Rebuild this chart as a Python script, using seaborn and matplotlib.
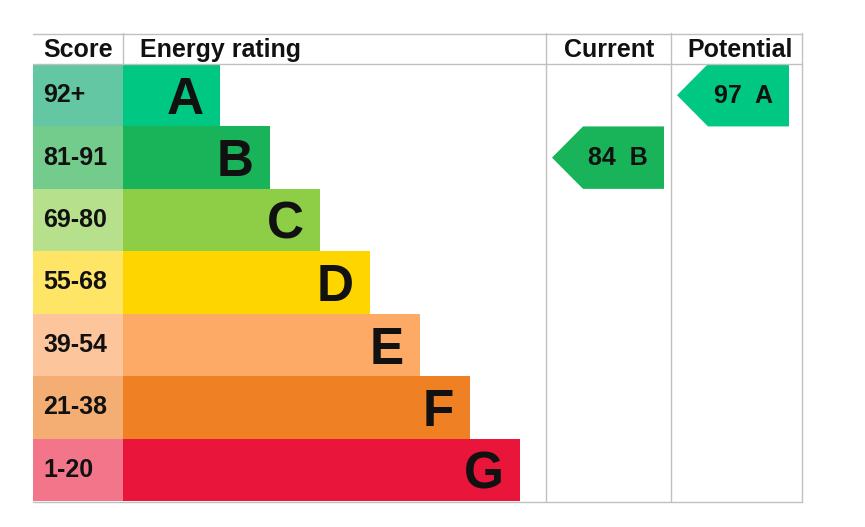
import matplotlib
matplotlib.use("Agg")
import matplotlib.pyplot as plt
import seaborn as sns
import pandas as pd
from matplotlib.patches import Polygon

# data
bands = ["A", "B", "C", "D", "E", "F", "G"]
score_ranges = ["92+", "81-91", "69-80", "55-68", "39-54", "21-38", "1-20"]
bar_lengths = [97, 147, 197, 247, 297, 347, 397]
band_colors = ["#00c781", "#19b459", "#8dce46", "#ffd500", "#fcaa65", "#ef8023", "#e9153b"]
score_colors = ["#63c7a3", "#73cb8c", "#b6e08c", "#ffe566", "#fdc59b", "#f4ae73", "#f27589"]
current_score, current_band = 84, "B"
potential_score, potential_band = 97, "A"

sns.set_theme(style="white")
plt.rcParams["font.family"] = ["Liberation Sans", "DejaVu Sans"]

W, H = 865, 527
fig = plt.figure(figsize=(W / 100, H / 100), dpi=100)


def px_axes(x0, y0, x1, y1):
    ax = fig.add_axes([x0 / W, 1 - y1 / H, (x1 - x0) / W, (y1 - y0) / H])
    ax.set_axis_off()
    return ax


df = pd.DataFrame({"band": bands, "score": score_ranges, "length": bar_lengths, "full": 90})
txt = dict(fontweight="bold", color="#111111", va="baseline")

# score column
ax_s = px_axes(33, 64, 123, 501)
sns.barplot(data=df, x="full", y="band", hue="band", palette=score_colors, saturation=1,
            width=1.0, linewidth=0, legend=False, ax=ax_s)
ax_s.set_xlim(0, 90)
ax_s.set_axis_off()
for i, s in enumerate(score_ranges):
    ax_s.text(10, i + 0.11, s, ha="left", fontsize=18, **txt)

# rating bars
ax_r = px_axes(123, 64, 545, 501)
sns.barplot(data=df, x="length", y="band", hue="band", palette=band_colors, saturation=1,
            width=1.0, linewidth=0, legend=False, ax=ax_r)
ax_r.set_xlim(0, 422)
ax_r.set_axis_off()
for i, (b, L) in enumerate(zip(bands, bar_lengths)):
    ax_r.text(L - 16, i + 0.30, b, ha="right", fontsize=37, **txt)


def arrow(ax, band, score):
    i = bands.index(band)
    c = band_colors[i]
    pts = [(7, i), (38, i - 0.5), (119, i - 0.5), (119, i + 0.5), (38, i + 0.5)]
    ax.add_patch(Polygon(pts, closed=True, facecolor=c, edgecolor="none"))
    ax.text(73, i + 0.125, f"{score}  {band}", ha="center", fontsize=18, **txt)


ax_c = px_axes(545, 64, 670, 501)
ax_c.set_xlim(0, 125)
ax_c.set_ylim(6.5, -0.5)
arrow(ax_c, current_band, current_score)

ax_p = px_axes(670, 64, 802, 501)
ax_p.set_xlim(0, 132)
ax_p.set_ylim(6.5, -0.5)
arrow(ax_p, potential_band, potential_score)

# grid lines and header on top
ax_g = px_axes(0, 0, W, H)
ax_g.set_xlim(0, W)
ax_g.set_ylim(H, 0)
ax_g.patch.set_alpha(0)
lc = "#c0c0c0"
lw = 1.0
ax_g.plot([33, 802], [33.5, 33.5], color=lc, lw=lw)
ax_g.plot([33, 802], [64, 64], color=lc, lw=lw)
ax_g.plot([33, 802], [501.5, 501.5], color=lc, lw=lw)
ax_g.plot([123, 123], [33, 64], color=lc, lw=lw)
for x in [545.5, 670.5, 801.5]:
    ax_g.plot([x, x], [33, 501.5], color=lc, lw=lw)

ax_g.text(43, 57, "Score", ha="left", fontsize=18, **txt)
ax_g.text(140, 57, "Energy rating", ha="left", fontsize=18, **txt)
ax_g.text(609, 57, "Current", ha="center", fontsize=18, **txt)
ax_g.text(740, 57, "Potential", ha="center", fontsize=18, **txt)

fig.savefig("out.png", dpi=100)
